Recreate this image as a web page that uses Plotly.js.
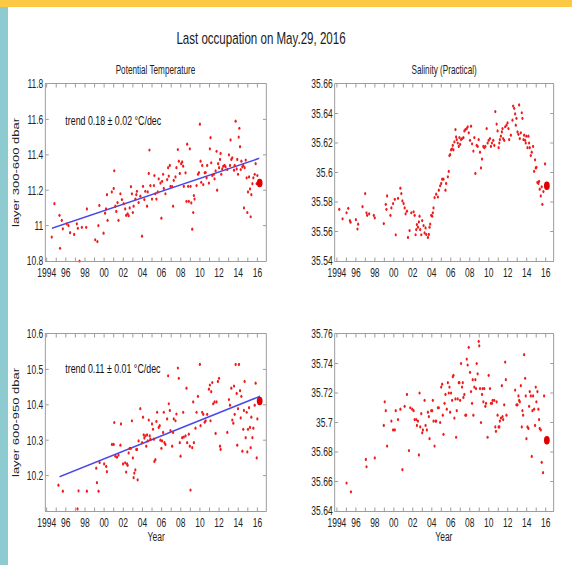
<!DOCTYPE html>
<html>
<head>
<meta charset="utf-8">
<script src="https://cdn.plot.ly/plotly-3.0.1.min.js"></script>
<style>
  html, body { margin: 0; padding: 0; background: #fff; overflow: hidden; width: 572px; height: 565px; }
  #chart { width: 841px; height: 565px; transform: scaleX(0.68014); transform-origin: 0 0; }
</style>
</head>
<body>
<div id="chart"></div>
<script>
// ---------- data ----------
const yearTicks = [1994,1995,1996,1997,1998,1999,2000,2001,2002,2003,2004,2005,2006,2007,2008,2009,2010,2011,2012,2013,2014,2015,2016];
const yearTickText = ["1994","","96","","98","","00","","02","","04","","06","","08","","10","","12","","14","","16"];

const tempUpperTicks = [10.8, 11.0, 11.2, 11.4, 11.6, 11.8];
const tempUpperTickText = ["10.8", "11", "11.2", "11.4", "11.6", "11.8"];
const salUpperTicks = [35.54, 35.56, 35.58, 35.60, 35.62, 35.64, 35.66];
const salUpperTickText = ["35.54", "35.56", "35.58", "35.6", "35.62", "35.64", "35.66"];
const tempLowerTicks = [10.2, 10.3, 10.4, 10.5, 10.6];
const tempLowerTickText = ["10.2", "10.3", "10.4", "10.5", "10.6"];
const salLowerTicks = [35.64, 35.66, 35.68, 35.70, 35.72, 35.74, 35.76];
const salLowerTickText = ["35.64", "35.66", "35.68", "35.7", "35.72", "35.74", "35.76"];

// Potential temperature, layer 300-600 dbar
const tempUpperYear = [1994.53,1994.81,1995.34,1995.4,1995.58,1995.69,1996.1,1996.28,1996.45,1996.87,
1997.15,1997.26,1997.43,1997.68,1998.2,1998.13,1999.07,1999.3,1999.4,1999.5,
1999.94,2000.1,2000.2,2000.3,2000.36,2000.8,2001.0,2001.06,2001.17,2001.27,
2001.4,2001.5,2001.7,2001.86,2002.04,2002.2,2002.3,2002.45,2002.56,2002.67,
2002.8,2002.9,2003.0,2003.08,2003.26,2003.36,2003.43,2003.6,2003.78,2003.96,
2004.06,2004.2,2004.3,2004.48,2004.55,2004.66,2004.73,2004.83,2005.0,2005.2,
2005.25,2005.35,2005.46,2005.6,2005.7,2005.88,2005.98,2006.05,2006.16,2006.23,
2006.4,2006.58,2006.68,2006.75,2006.86,2006.93,2007.1,2007.2,2007.27,2007.45,
2007.55,2007.7,2007.8,2007.9,2008.04,2008.15,2008.25,2008.32,2008.5,2008.6,
2008.67,2008.77,2008.84,2008.95,2009.02,2009.1,2009.2,2009.3,2009.37,2009.44,
2009.65,2009.8,2009.9,2010.0,2010.07,2010.14,2010.24,2010.35,2010.5,2010.6,
2010.7,2010.76,2010.94,2011.04,2011.11,2011.18,2011.29,2011.46,2011.53,2011.64,
2011.74,2011.8,2011.9,2012.0,2012.1,2012.16,2012.23,2012.33,2012.44,2012.58,
2012.68,2012.86,2013.03,2013.14,2013.2,2013.28,2013.38,2013.56,2013.63,2013.73,
2013.84,2013.9,2013.98,2014.05,2014.12,2014.19,2014.26,2014.33,2014.43,2014.53,
2014.6,2014.67,2014.78,2014.88,2014.95,2015.02,2015.13,2015.23,2015.3,2015.37,
2015.48,2015.58,2015.72,2015.82,2015.93,2016.0];
const tempUpperVal = [10.935,11.124,11.058,10.872,11.03,10.982,11.01,11.0,10.96,10.95,
11.01,10.985,10.80,10.99,11.094,10.99,10.92,10.91,11.0,11.114,
10.957,11.07,11.095,11.175,11.03,11.19,11.21,11.31,11.11,11.08,
11.13,11.03,11.18,11.147,11.124,11.094,11.058,11.067,11.056,11.1,
11.22,11.18,11.074,11.11,11.15,11.175,11.194,11.13,11.166,10.94,
11.222,11.147,11.194,11.11,11.19,11.295,11.427,11.226,11.15,11.226,
11.283,11.18,11.15,11.19,11.264,11.24,11.042,11.25,11.29,11.21,
11.18,11.26,11.327,11.28,11.34,11.222,11.22,11.11,11.256,11.275,
11.327,11.43,11.364,11.295,11.35,11.36,11.336,11.222,11.298,11.137,
11.46,11.222,11.137,11.434,11.222,11.128,10.98,11.074,11.17,11.15,
11.226,11.29,11.3,11.573,11.364,11.245,11.34,11.232,11.298,11.3,
11.27,11.34,11.24,11.434,11.497,11.355,11.283,11.29,11.264,11.31,
11.42,11.2,11.35,11.327,11.374,11.408,11.29,11.32,11.336,11.34,
11.332,11.317,11.4,11.34,11.484,11.374,11.383,11.313,11.34,11.59,
11.32,11.374,11.29,11.5,11.55,11.446,11.317,11.364,11.332,11.34,
11.1,11.327,11.37,11.27,11.074,11.19,11.275,11.207,11.05,11.175,
11.237,11.27,11.29,11.35,11.237,11.283];
const tempUpperTrendYear = [1994.55, 2016.2];
const tempUpperTrendVal = [10.985, 11.38];
const tempUpperLastYear = [2016.24];
const tempUpperLastVal = [11.24];

// Salinity, layer 300-600 dbar
const salUpperYear = [1994.25,1994.6,1995.02,1995.2,1995.37,1995.44,1996.0,1996.17,1996.24,1996.7,
1996.98,1997.12,1997.19,1997.4,1997.89,1997.99,1998.94,1999.15,1999.22,1999.29,
1999.64,1999.74,1999.92,2000.1,2000.2,2000.44,2000.69,2000.79,2000.9,2001.03,
2001.14,2001.24,2001.38,2001.49,2001.66,2001.84,2002.08,2002.19,2002.29,2002.36,
2002.43,2002.54,2002.64,2002.71,2002.78,2002.89,2002.99,2003.13,2003.24,2003.34,
2003.41,2003.59,2003.69,2003.76,2003.83,2003.94,2004.04,2004.11,2004.18,2004.29,
2004.46,2004.64,2004.74,2004.88,2004.99,2005.09,2005.23,2005.44,2005.51,2005.69,
2005.79,2005.86,2005.93,2006.03,2006.14,2006.21,2006.28,2006.38,2006.49,2006.56,
2006.63,2006.73,2006.84,2006.91,2006.98,2007.08,2007.19,2007.33,2007.43,2007.54,
2007.68,2007.78,2007.89,2008.03,2008.13,2008.24,2008.38,2008.48,2008.59,2008.73,
2008.83,2008.94,2009.08,2009.18,2009.29,2009.43,2009.53,2009.64,2009.78,2009.88,
2009.99,2010.13,2010.23,2010.34,2010.48,2010.58,2010.69,2010.83,2010.93,2011.04,
2011.11,2011.17,2011.28,2011.38,2011.45,2011.52,2011.63,2011.73,2011.87,2011.98,
2012.08,2012.15,2012.33,2012.5,2012.57,2012.68,2012.78,2012.85,2012.92,2013.03,
2013.13,2013.2,2013.27,2013.38,2013.48,2013.55,2013.66,2013.73,2013.83,2013.9,
2013.97,2014.08,2014.18,2014.25,2014.32,2014.43,2014.53,2014.67,2014.78,2014.88,
2014.95,2015.02,2015.13,2015.23,2015.3,2015.37,2015.48,2015.58,2015.65,2015.76,
2015.93];
const salUpperVal = [35.575,35.5686,35.5727,35.5757,35.5674,35.5663,35.568,35.5617,35.565,35.5768,
35.5857,35.5727,35.571,35.572,35.571,35.5693,35.5654,35.5784,35.575,35.5841,
35.571,35.576,35.5789,35.5818,35.5578,35.5825,35.5894,35.5857,35.5807,35.5789,
35.576,35.572,35.5738,35.556,35.5606,35.5727,35.5734,35.571,35.5578,35.5613,
35.5647,35.5629,35.5665,35.5704,35.5613,35.5578,35.5674,35.564,35.559,35.5624,
35.558,35.556,35.558,35.5629,35.5651,35.571,35.5704,35.5727,35.576,35.583,
35.5853,35.5834,35.588,35.591,35.5926,35.5955,35.5955,35.588,35.5926,35.5971,
35.6008,35.6115,35.6122,35.6154,35.616,35.6184,35.6154,35.6207,35.6291,35.6241,
35.6223,35.62,35.6177,35.6237,35.6191,35.6223,35.623,35.6237,35.6282,35.6291,
35.6298,35.631,35.6269,35.6218,35.6314,35.6195,35.6145,35.6237,35.5994,35.6184,
35.6177,35.6223,35.6138,35.6031,35.6091,35.6177,35.6168,35.6177,35.6298,35.62,
35.6218,35.623,35.6177,35.62,35.6218,35.6184,35.6413,35.6328,35.6282,35.6168,
35.62,35.6223,35.6246,35.6275,35.6298,35.623,35.6218,35.631,35.6321,35.6337,
35.6298,35.6223,35.6253,35.6355,35.6451,35.6435,35.6397,35.6321,35.6367,35.6275,
35.6259,35.6458,35.623,35.6269,35.6405,35.6367,35.6223,35.6253,35.6218,35.62,
35.6246,35.6168,35.6246,35.62,35.6168,35.6115,35.6138,35.6177,35.6008,35.6086,
35.6031,35.6035,35.5933,35.5926,35.594,35.5887,35.5841,35.5903,35.5784,35.5871,
35.6058];
const salUpperLastYear = [2016.12];
const salUpperLastVal = [35.591];

// Potential temperature, layer 600-950 dbar
const tempLowerYear = [1995.23,1995.69,1997.22,1997.33,1998.2,1999.18,1999.25,1999.42,1999.53,2000.0,
2000.22,2000.29,2000.82,2001.0,2001.06,2001.17,2001.34,2001.5,2001.7,2001.76,
2001.97,2002.2,2002.3,2002.4,2002.45,2002.56,2002.67,2002.8,2002.9,2003.0,
2003.08,2003.15,2003.26,2003.36,2003.43,2003.5,2003.6,2003.78,2003.96,2004.06,
2004.13,2004.2,2004.3,2004.4,2004.48,2004.55,2004.66,2004.76,2004.83,2005.0,
2005.1,2005.2,2005.25,2005.35,2005.46,2005.53,2005.7,2005.8,2005.88,2005.98,
2006.05,2006.16,2006.23,2006.3,2006.4,2006.58,2006.68,2006.75,2006.86,2006.93,
2007.1,2007.2,2007.27,2007.45,2007.55,2007.7,2007.8,2007.9,2007.98,2008.15,
2008.25,2008.32,2008.5,2008.6,2008.67,2008.84,2008.95,2009.02,2009.2,2009.3,
2009.37,2009.54,2009.65,2009.8,2010.0,2010.07,2010.24,2010.35,2010.5,2010.6,
2010.76,2010.94,2011.04,2011.11,2011.18,2011.29,2011.39,2011.53,2011.64,2011.74,
2011.88,2012.0,2012.1,2012.16,2012.86,2013.03,2013.14,2013.28,2013.38,2013.49,
2013.56,2013.63,2013.73,2013.84,2013.9,2013.98,2014.08,2014.19,2014.26,2014.33,
2014.43,2014.53,2014.6,2014.67,2014.78,2014.88,2014.95,2015.02,2015.13,2015.23,
2015.3,2015.37,2015.48,2015.58,2015.72,2015.82,2015.93,2016.0];
const tempLowerVal = [10.173,10.156,10.106,10.157,10.156,10.221,10.18,10.156,10.237,10.233,
10.226,10.211,10.288,10.288,10.35,10.255,10.252,10.258,10.286,10.346,
10.233,10.236,10.21,10.233,10.229,10.264,10.277,10.277,10.355,10.25,
10.194,10.207,10.216,10.274,10.274,10.188,10.298,10.389,10.293,10.365,
10.315,10.306,10.312,10.283,10.315,10.298,10.357,10.312,10.303,10.346,
10.331,10.303,10.24,10.245,10.353,10.379,10.336,10.341,10.3,10.277,
10.298,10.322,10.379,10.293,10.288,10.36,10.482,10.403,10.384,10.327,
10.283,10.322,10.36,10.355,10.374,10.504,10.475,10.293,10.255,10.307,
10.379,10.309,10.312,10.447,10.293,10.317,10.283,10.159,10.279,10.408,
10.293,10.334,10.379,10.424,10.514,10.341,10.379,10.373,10.351,10.355,
10.373,10.444,10.456,10.355,10.437,10.463,10.403,10.408,10.319,10.408,
10.466,10.475,10.283,10.274,10.322,10.415,10.399,10.447,10.357,10.348,
10.453,10.373,10.514,10.432,10.286,10.389,10.514,10.44,10.363,10.424,
10.269,10.331,10.384,10.466,10.307,10.379,10.267,10.331,10.392,10.336,
10.279,10.365,10.307,10.334,10.399,10.461,10.25,10.36];
const tempLowerTrendYear = [1995.34, 2016.28];
const tempLowerTrendVal = [10.197, 10.424];
const tempLowerLastYear = [2016.24];
const tempLowerLastVal = [10.411];

// Salinity, layer 600-950 dbar
const salLowerYear = [1995.02,1995.48,1997.05,1997.12,1997.99,1999.04,1999.15,1998.94,1999.29,1999.74,
1999.92,2000.1,2000.2,2000.44,2000.69,2000.9,2001.14,2001.38,2001.59,2001.73,
2001.94,2002.08,2002.19,2002.36,2002.43,2002.54,2002.64,2002.71,2002.78,2002.89,
2002.99,2003.06,2003.24,2003.34,2003.48,2003.59,2003.69,2003.76,2003.94,2004.04,
2004.11,2004.18,2004.29,2004.39,2004.46,2004.64,2004.74,2004.88,2004.99,2005.09,
2005.16,2005.23,2005.34,2005.44,2005.58,2005.69,2005.79,2005.86,2005.93,2006.03,
2006.14,2006.21,2006.28,2006.38,2006.49,2006.56,2006.63,2006.73,2006.84,2006.91,
2006.98,2007.08,2007.19,2007.26,2007.33,2007.43,2007.54,2007.61,2007.68,2007.78,
2007.89,2008.03,2008.13,2008.24,2008.31,2008.38,2008.48,2008.59,2008.66,2008.73,
2008.83,2008.94,2009.0,2009.08,2009.18,2009.29,2009.36,2009.43,2009.53,2009.64,
2009.71,2009.88,2009.99,2010.13,2010.23,2010.34,2010.41,2010.58,2010.69,2010.76,
2010.83,2010.93,2011.04,2011.11,2011.17,2011.28,2011.38,2011.45,2011.52,2011.63,
2011.73,2011.8,2011.87,2012.78,2012.92,2013.03,2013.13,2013.2,2013.27,2013.38,
2013.48,2013.55,2013.62,2013.73,2013.83,2013.9,2013.97,2014.08,2014.18,2014.25,
2014.32,2014.43,2014.53,2014.6,2014.67,2014.78,2014.88,2014.95,2015.02,2015.13,
2015.23,2015.3,2015.37,2015.48,2015.58,2015.72,2015.83];
const salLowerVal = [35.659,35.653,35.675,35.67,35.676,35.714,35.708,35.698,35.684,35.701,
35.695,35.695,35.708,35.702,35.709,35.668,35.711,35.719,35.681,35.71,
35.709,35.708,35.702,35.702,35.698,35.701,35.678,35.72,35.697,35.706,
35.693,35.695,35.715,35.698,35.695,35.707,35.704,35.689,35.708,35.708,
35.715,35.701,35.684,35.701,35.701,35.71,35.71,35.7,35.724,35.726,
35.705,35.692,35.713,35.719,35.709,35.727,35.72,35.724,35.707,35.72,
35.715,35.731,35.732,35.703,35.716,35.69,35.708,35.716,35.727,35.727,
35.715,35.74,35.724,35.727,35.717,35.719,35.705,35.705,35.743,35.739,
35.751,35.734,35.721,35.713,35.729,35.705,35.724,35.729,35.723,35.74,
35.733,35.755,35.752,35.723,35.7,35.719,35.723,35.714,35.723,35.711,
35.713,35.69,35.732,35.723,35.713,35.713,35.715,35.715,35.697,35.694,
35.714,35.705,35.697,35.697,35.701,35.703,35.725,35.704,35.702,35.712,
35.741,35.729,35.705,35.722,35.712,35.712,35.718,35.715,35.714,35.725,
35.697,35.708,35.705,35.746,35.73,35.718,35.689,35.697,35.696,35.711,
35.721,35.718,35.677,35.708,35.718,35.709,35.698,35.724,35.714,35.721,
35.709,35.702,35.696,35.695,35.673,35.666,35.718];
const salLowerLastYear = [2016.12];
const salLowerLastVal = [35.688];

// ---------- styling ----------
const FONT = "'Liberation Sans', Arial, Helvetica, sans-serif";
const RED = "#ee1c1c";
const BLUE = "rgb(72,72,232)";
const AXC = "#8a8a8a";

function dots(x, y, xa, ya) {
  return { type: "scatter", mode: "markers", x: x, y: y, xaxis: xa, yaxis: ya,
    marker: { color: RED, size: 3.2 }, hoverinfo: "skip", showlegend: false, cliponaxis: false };
}
function bigDot(x, y, xa, ya) {
  return { type: "scatter", mode: "markers", x: x, y: y, xaxis: xa, yaxis: ya,
    marker: { color: "#e00000", size: 8.5 }, hoverinfo: "skip", showlegend: false, cliponaxis: false };
}
function trend(x, y, xa, ya) {
  return { type: "scatter", mode: "lines", x: x, y: y, xaxis: xa, yaxis: ya,
    line: { color: BLUE, width: 1.6 }, hoverinfo: "skip", showlegend: false };
}

const traces = [
  trend(tempUpperTrendYear, tempUpperTrendVal, "x", "y"),
  dots(tempUpperYear, tempUpperVal, "x", "y"),
  bigDot(tempUpperLastYear, tempUpperLastVal, "x", "y"),
  dots(salUpperYear, salUpperVal, "x2", "y2"),
  bigDot(salUpperLastYear, salUpperLastVal, "x2", "y2"),
  trend(tempLowerTrendYear, tempLowerTrendVal, "x3", "y3"),
  dots(tempLowerYear, tempLowerVal, "x3", "y3"),
  bigDot(tempLowerLastYear, tempLowerLastVal, "x3", "y3"),
  dots(salLowerYear, salLowerVal, "x4", "y4"),
  bigDot(salLowerLastYear, salLowerLastVal, "x4", "y4")
];

const W = 572, H = 565;
const px = v => v / W;
const py = v => 1 - v / H;

function xax(domL, domR, range, anchor) {
  return { domain: [px(domL), px(domR)], range: range, anchor: anchor,
    tickmode: "array", tickvals: yearTicks, ticktext: yearTickText,
    ticks: "inside", ticklen: 3.5, tickcolor: AXC, tickwidth: 1,
    showline: true, linecolor: AXC, linewidth: 1, mirror: "allticks",
    showgrid: false, zeroline: false, fixedrange: true,
    tickfont: { family: FONT, size: 12.5, color: "#222" } };
}
function yax(domB, domT, range, vals, text, anchor) {
  return { domain: [py(domB), py(domT)], range: range, anchor: anchor,
    tickmode: "array", tickvals: vals, ticktext: text,
    ticks: "inside", ticklen: 4.5, tickcolor: AXC, tickwidth: 1,
    showline: true, linecolor: AXC, linewidth: 1, mirror: "allticks",
    showgrid: false, zeroline: false, fixedrange: true,
    tickfont: { family: FONT, size: 12.5, color: "#222" } };
}

const layout = {
  width: 841, height: 565,
  margin: { l: 0, r: 0, t: 0, b: 0, pad: 0 },
  paper_bgcolor: "#ffffff", plot_bgcolor: "#ffffff",
  showlegend: false,
  font: { family: FONT, color: "#222" },
  title: { text: "Last occupation on May.29, 2016", x: px(261), y: py(38), xref: "paper", yref: "paper",
    xanchor: "center", yanchor: "middle", font: { family: FONT, size: 17, color: "#1a1a1a" } },
  xaxis:  xax(45.7, 266, [1993.9, 2016.9], "y"),
  yaxis:  yax(261, 84, [10.8, 11.8], tempUpperTicks, tempUpperTickText, "x"),
  xaxis2: xax(335, 553.3, [1993.8, 2016.8], "y2"),
  yaxis2: yax(261, 84, [35.54, 35.66], salUpperTicks, salUpperTickText, "x2"),
  xaxis3: xax(45.7, 266, [1993.9, 2016.9], "y3"),
  yaxis3: yax(511, 334, [10.1, 10.6], tempLowerTicks, tempLowerTickText, "x3"),
  xaxis4: xax(335, 553.3, [1993.8, 2016.8], "y4"),
  yaxis4: yax(511, 334, [35.64, 35.76], salLowerTicks, salLowerTickText, "x4"),
  shapes: [
    { type: "rect", xref: "paper", yref: "paper", x0: 0, x1: 1, y0: py(7), y1: 1,
      fillcolor: "#fcc945", line: { width: 0 }, layer: "below" },
    { type: "rect", xref: "paper", yref: "paper", x0: 0, x1: px(8), y0: 0, y1: py(7),
      fillcolor: "#8ecbd0", line: { width: 0 }, layer: "below" }
  ],
  annotations: [
    { text: "Potential Temperature", xref: "paper", yref: "paper", x: px(155.9), y: py(70),
      xanchor: "center", yanchor: "middle", showarrow: false, font: { family: FONT, size: 12, color: "#222" } },
    { text: "Salinity (Practical)", xref: "paper", yref: "paper", x: px(444), y: py(70),
      xanchor: "center", yanchor: "middle", showarrow: false, font: { family: FONT, size: 12, color: "#222" } },
    { text: "layer 300-600 dbar", xref: "paper", yref: "paper", x: px(16), y: py(172.5), textangle: -90,
      xanchor: "center", yanchor: "middle", showarrow: false, font: { family: FONT, size: 13, color: "#222" } },
    { text: "layer 600-950 dbar", xref: "paper", yref: "paper", x: px(16), y: py(422.5), textangle: -90,
      xanchor: "center", yanchor: "middle", showarrow: false, font: { family: FONT, size: 13, color: "#222" } },
    { text: "Year", xref: "paper", yref: "paper", x: px(155.9), y: py(536.5),
      xanchor: "center", yanchor: "middle", showarrow: false, font: { family: FONT, size: 12.5, color: "#222" } },
    { text: "Year", xref: "paper", yref: "paper", x: px(444), y: py(536.5),
      xanchor: "center", yanchor: "middle", showarrow: false, font: { family: FONT, size: 12.5, color: "#222" } },
    { text: "trend 0.18 ± 0.02 °C/dec", xref: "paper", yref: "paper", x: px(64), y: py(120),
      xanchor: "left", yanchor: "middle", showarrow: false, font: { family: FONT, size: 13, color: "#111" } },
    { text: "trend 0.11 ± 0.01 °C/dec", xref: "paper", yref: "paper", x: px(64), y: py(368),
      xanchor: "left", yanchor: "middle", showarrow: false, font: { family: FONT, size: 13, color: "#111" } }
  ]
};

Plotly.newPlot("chart", traces, layout, { staticPlot: true, displayModeBar: false, responsive: false });
</script>
</body>
</html>
